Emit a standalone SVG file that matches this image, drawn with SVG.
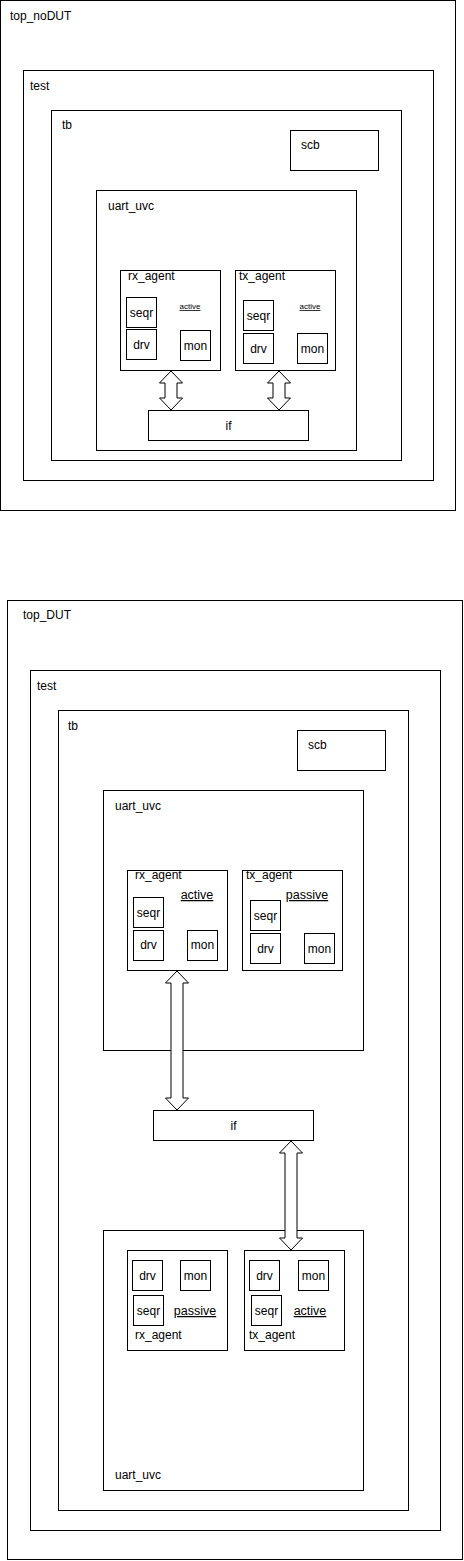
<svg xmlns="http://www.w3.org/2000/svg" width="464" height="1561" viewBox="0 0 464 1561">
<style>
.b{fill:#fff;stroke:#000;stroke-width:1}
.t{font-family:"Liberation Sans",Arial,sans-serif;font-size:12px;fill:#000}
.c{text-anchor:middle}
.s{font-size:8px;text-decoration:underline}
.m{font-size:12.5px;text-decoration:underline}
.a{fill:#fff;stroke:#000;stroke-width:1;stroke-linejoin:miter}
</style>
<rect width="464" height="1561" fill="#fff"/>

<!-- ===== top_noDUT ===== -->
<g id="top_noDUT"><rect class="b" x="0.5" y="0.5" width="455" height="510"/><text class="t" x="10" y="20">top_noDUT</text></g>
<g id="test1"><rect class="b" x="23.5" y="70.5" width="410" height="410"/><text class="t" x="30" y="90">test</text></g>
<g id="tb1"><rect class="b" x="51.5" y="110.5" width="350" height="350"/><text class="t" x="62" y="129">tb</text></g>
<g id="scb1"><rect class="b" x="290.5" y="130.5" width="88" height="40"/><text class="t" x="301" y="149">scb</text></g>
<g id="uart_uvc1"><rect class="b" x="96.5" y="190.5" width="260" height="260"/><text class="t" x="108" y="210">uart_uvc</text></g>
<g id="rx_agent1"><rect class="b" x="120.5" y="270.5" width="100" height="100"/><text class="t" x="128" y="280">rx_agent</text><text class="t s c" x="190" y="309">active</text></g>
<g id="rx_seqr1"><rect class="b" x="126.5" y="297.5" width="30" height="30"/><text class="t c" x="141.5" y="317">seqr</text></g>
<g id="rx_drv1"><rect class="b" x="126.5" y="329.5" width="30" height="30"/><text class="t c" x="141.5" y="349">drv</text></g>
<g id="rx_mon1"><rect class="b" x="180.5" y="330.5" width="30" height="30"/><text class="t c" x="195.5" y="350">mon</text></g>
<g id="tx_agent1"><rect class="b" x="235.5" y="270.5" width="100" height="100"/><text class="t" x="239" y="280">tx_agent</text><text class="t s c" x="310" y="309">active</text></g>
<g id="tx_seqr1"><rect class="b" x="243.5" y="300.5" width="30" height="30"/><text class="t c" x="258.5" y="320">seqr</text></g>
<g id="tx_drv1"><rect class="b" x="243.5" y="333.5" width="30" height="30"/><text class="t c" x="258.5" y="353">drv</text></g>
<g id="tx_mon1"><rect class="b" x="297.5" y="333.5" width="30" height="30"/><text class="t c" x="312.5" y="353">mon</text></g>
<g id="if1"><rect class="b" x="148.5" y="410.5" width="160" height="30"/><text class="t c" x="228.5" y="430">if</text></g>

<!-- ===== top_DUT ===== -->
<g id="top_DUT"><rect class="b" x="7.5" y="600.5" width="455" height="959"/><text class="t" x="23" y="619">top_DUT</text></g>
<g id="test2"><rect class="b" x="30.5" y="670.5" width="410" height="860"/><text class="t" x="37" y="690">test</text></g>
<g id="tb2"><rect class="b" x="58.5" y="710.5" width="350" height="800"/><text class="t" x="68" y="730">tb</text></g>
<g id="scb2"><rect class="b" x="297.5" y="730.5" width="88" height="40"/><text class="t" x="308" y="749">scb</text></g>
<g id="uart_uvc2"><rect class="b" x="103.5" y="790.5" width="260" height="260"/><text class="t" x="115" y="810">uart_uvc</text></g>
<g id="rx_agent2"><rect class="b" x="127.5" y="870.5" width="100" height="100"/><text class="t" x="135" y="879">rx_agent</text><text class="t m c" x="197" y="899">active</text></g>
<g id="rx_seqr2"><rect class="b" x="133.5" y="897.5" width="30" height="30"/><text class="t c" x="148.5" y="917">seqr</text></g>
<g id="rx_drv2"><rect class="b" x="133.5" y="930.5" width="30" height="30"/><text class="t c" x="148.5" y="949">drv</text></g>
<g id="rx_mon2"><rect class="b" x="187.5" y="930.5" width="30" height="30"/><text class="t c" x="202.5" y="949">mon</text></g>
<g id="tx_agent2"><rect class="b" x="242.5" y="870.5" width="100" height="100"/><text class="t" x="246" y="879">tx_agent</text><text class="t m c" x="307" y="899">passive</text></g>
<g id="tx_seqr2"><rect class="b" x="250.5" y="900.5" width="30" height="30"/><text class="t c" x="265.5" y="920">seqr</text></g>
<g id="tx_drv2"><rect class="b" x="250.5" y="933.5" width="30" height="30"/><text class="t c" x="265.5" y="953">drv</text></g>
<g id="tx_mon2"><rect class="b" x="304.5" y="933.5" width="30" height="30"/><text class="t c" x="319.5" y="953">mon</text></g>
<g id="if2"><rect class="b" x="153.5" y="1110.5" width="160" height="30"/><text class="t c" x="233.5" y="1130">if</text></g>

<g id="uart_uvc3"><rect class="b" x="103.5" y="1230.5" width="260" height="260"/><text class="t" x="115" y="1479">uart_uvc</text></g>
<g id="rx_agent3"><rect class="b" x="127.5" y="1250.5" width="100" height="100"/><text class="t" x="135" y="1339">rx_agent</text><text class="t m c" x="195" y="1315">passive</text></g>
<g id="rx_drv3"><rect class="b" x="132.5" y="1260.5" width="30" height="30"/><text class="t c" x="147.5" y="1280">drv</text></g>
<g id="rx_mon3"><rect class="b" x="180.5" y="1260.5" width="30" height="30"/><text class="t c" x="195.5" y="1280">mon</text></g>
<g id="rx_seqr3"><rect class="b" x="133.5" y="1295.5" width="30" height="30"/><text class="t c" x="148.5" y="1315">seqr</text></g>
<g id="tx_agent3"><rect class="b" x="244.5" y="1250.5" width="100" height="100"/><text class="t" x="249" y="1339">tx_agent</text><text class="t m c" x="310" y="1315">active</text></g>
<g id="tx_drv3"><rect class="b" x="249.5" y="1260.5" width="30" height="30"/><text class="t c" x="264.5" y="1280">drv</text></g>
<g id="tx_mon3"><rect class="b" x="298.5" y="1260.5" width="30" height="30"/><text class="t c" x="313.5" y="1280">mon</text></g>
<g id="tx_seqr3"><rect class="b" x="251.5" y="1295.5" width="30" height="30"/><text class="t c" x="266.5" y="1315">seqr</text></g>

<!-- ===== connectors ===== -->
<g id="connectors">
<path class="a" d="M171,371 L182.5,383 L177,383 L177,398 L182.5,398 L171,410 L159.5,398 L165,398 L165,383 L159.5,383 Z"/>
<path class="a" d="M279,371 L290.5,383 L285,383 L285,398 L290.5,398 L279,410 L267.5,398 L273,398 L273,383 L267.5,383 Z"/>
<path class="a" d="M177,971 L188.5,983 L183,983 L183,1098 L188.5,1098 L177,1110 L165.5,1098 L171,1098 L171,983 L165.5,983 Z"/>
<path class="a" d="M291,1141 L302.5,1153 L297,1153 L297,1238 L302.5,1238 L291,1250 L279.5,1238 L285,1238 L285,1153 L279.5,1153 Z"/>
</g>
</svg>
